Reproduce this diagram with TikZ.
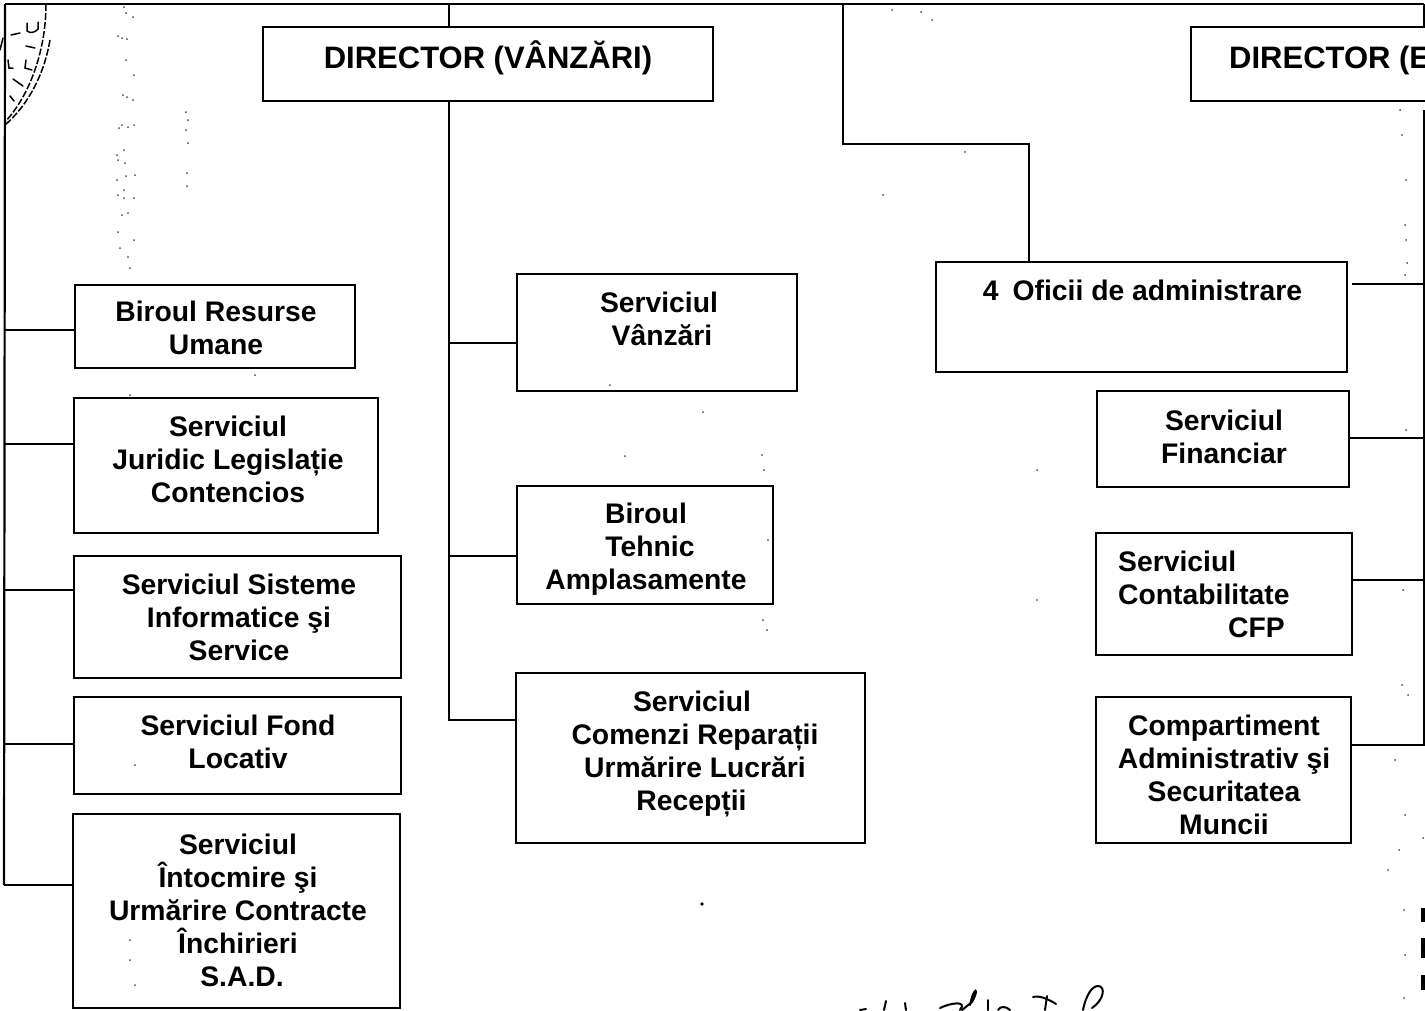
\documentclass[tikz,border=0pt]{standalone}
\usepackage{fontspec}
\setmainfont{Liberation Sans}
\tikzset{
  orgbox/.style={draw=black,line width=2.2pt,fill=none,rectangle,inner sep=0pt,outer sep=0pt,anchor=north west},
  conn/.style={draw=black,line width=2.2pt},
  lbl/.style={font=\fontsize{28.3}{33}\selectfont\bfseries,inner sep=0pt,align=center,text=black},
  lblleft/.style={lbl,align=left,anchor=west},
  head/.style={font=\fontsize{31}{33}\selectfont\bfseries,inner sep=0pt,text=black},
  speck/.style={fill=black!70,draw=none},
  scribble/.style={draw=black,line width=2pt,line cap=round},
  stamp/.style={draw=black,line width=1.5pt,dash pattern=on 7pt off 2pt},
  stampmark/.style={draw=black,line width=1.5pt,line cap=round}
}
\begin{document}
\begin{tikzpicture}[x=1pt,y=-1pt]
\clip (0,0) rectangle (1425,1010);
\fill[white] (0,0) rectangle (1425,1010);
% free ends of the trunk lines
\coordinate (tl) at (5,4);
\coordinate (tr) at (1424,4);
\coordinate (tend) at (1424,745);
\coordinate (lend) at (4,885);
% boxes
\node[orgbox,minimum width=450pt,minimum height=74pt] (dv) at (263,27) {};
\node[orgbox,minimum width=300pt,minimum height=74pt] (de) at (1191,27) {};
\node[orgbox,minimum width=280pt,minimum height=83pt] (b1) at (75,285) {};
\node[orgbox,minimum width=304pt,minimum height=135pt] (b2) at (74,398) {};
\node[orgbox,minimum width=327pt,minimum height=122pt] (b3) at (74,556) {};
\node[orgbox,minimum width=327pt,minimum height=97pt] (b4) at (74,697) {};
\node[orgbox,minimum width=327pt,minimum height=194pt] (b5) at (73,814) {};
\node[orgbox,minimum width=280pt,minimum height=117pt] (c1) at (517,274) {};
\node[orgbox,minimum width=256pt,minimum height=118pt] (c2) at (517,486) {};
\node[orgbox,minimum width=349pt,minimum height=170pt] (c3) at (516,673) {};
\node[orgbox,minimum width=411pt,minimum height=110pt] (d0) at (936,262) {};
\node[orgbox,minimum width=252pt,minimum height=96pt] (d1) at (1097,391) {};
\node[orgbox,minimum width=256pt,minimum height=122pt] (d2) at (1096,533) {};
\node[orgbox,minimum width=255pt,minimum height=146pt] (d3) at (1096,697) {};
% labels
\node[head,anchor=center] (tdv) at (488,57.5) {DIRECTOR (VÂNZĂRI)};
\node[head,anchor=west] (tde) at (1229,60) {DIRECTOR (E};
\node[lbl] (t1) at (216,328) {Biroul Resurse\\Umane};
\node[lbl] (t2) at (228,459.5) {Serviciul\\Juridic Legislație\\Contencios};
\node[lbl] (t3) at (239,617) {Serviciul Sisteme\\Informatice şi\\Service};
\node[lbl] (t4) at (238,741.5) {Serviciul Fond\\Locativ};
\node[lbl] (t5) at (238,910) {Serviciul\\Întocmire şi\\Urmărire Contracte\\Închirieri\\\hspace*{8pt}S.A.D.};
\node[lbl] (t6) at (659,319) {Serviciul\\\hspace*{6pt}Vânzări};
\node[lbl] (t7) at (646,549.5) {Biroul\\\hspace*{8pt}Tehnic\\Amplasamente};
\node[lbl] (t8) at (695,754.5) {Serviciul\hspace*{6pt}\\Comenzi Reparații\\Urmărire Lucrări\hspace*{5pt}\\Recepții\hspace*{7pt}};
\node[lbl] (t9) at (1142.5,290) {4\hspace{14pt}Oficii de administrare};
\node[lbl] (t10) at (1224,436.5) {Serviciul\\Financiar};
\node[lblleft] (t11) at (1118,594) {Serviciul\\Contabilitate\\\hspace*{110pt}CFP};
\node[lbl] (t12) at (1224,775) {Compartiment\\Administrativ şi\\Securitatea\\Muncii};
% connectors
\draw[conn] (tl) -- (tr);
\draw[conn] (tl) -- (lend);
\draw[conn] (dv.north -| 449,0) -- (449,4);
\draw[conn] (dv.south -| 449,0) -- (449,720) -- (c3.west |- 0,720);
\draw[conn] (449,343) -- (c1.west |- 0,343);
\draw[conn] (449,556) -- (c2.west |- 0,556);
\draw[conn] (843,4) -- (843,144) -- (1029,144) -- (d0.north -| 1029,0);
\draw[conn] (tr) -- (1424,27);
\draw[conn] (1424,110) -- (tend) -- (d3.east |- tend);
\draw[conn] (d0.east |- 0,284) ++(5,0) -- (1424,284);
\draw[conn] (d1.east |- 0,438) -- (1424,438);
\draw[conn] (d2.east |- 0,580) -- (1424,580);
\draw[conn] (5,330) -- (b1.west |- 0,330);
\draw[conn] (5,444) -- (b2.west |- 0,444);
\draw[conn] (5,590) -- (b3.west |- 0,590);
\draw[conn] (5,744) -- (b4.west |- 0,744);
\draw[conn] (lend) -- (b5.west |- lend);
% stamp
\draw[stamp] (46,4) .. controls (46,50) and (30,95) .. (5,122);
\draw[stamp] (50,40) .. controls (44,75) and (28,105) .. (5,125);
\draw[stampmark] (27,23) -- (27,31) .. controls (30,34) and (36,32) .. (38,29) -- (38,22);
\draw[stampmark] (11,35) -- (20,33);
\draw[stampmark] (26,46) -- (35,48);
\draw[stampmark] (8,60) -- (9,68) -- (13,68);
\draw[stampmark] (26,60) -- (25,68) -- (32,70);
\draw[stampmark] (13,79) -- (23,86);
\draw[stampmark] (10,96) -- (14,101);
\draw[stampmark] (0,50) -- (3,38);
% right-hand fragments
\fill (1421,908) rectangle (1425,922);
\fill (1421,938) rectangle (1425,958);
\fill (1421,975) rectangle (1425,990);
% signature
\draw[scribble] (860,1010) -- (866,1009);
\draw[scribble] (886,1001) -- (884,1010);
\draw[scribble] (905,1003) -- (906,1010);
\draw[scribble] (940,1008) .. controls (950,1003) and (968,1000) .. (960,1010);
\draw[scribble] (970,1005) .. controls (974,985) and (980,988) .. (972,1002) -- (962,1010);
\draw[scribble] (988,1000) -- (988,1010);
\draw[scribble] (998,1010) .. controls (1000,1006) and (1006,1006) .. (1010,1010);
\draw[scribble] (1033,997) .. controls (1040,995) and (1050,1000) .. (1056,1004);
\draw[scribble] (1047,996) -- (1045,1010);
\draw[scribble] (1083,1010) .. controls (1086,995) and (1092,986) .. (1098,986) .. controls (1106,986) and (1104,1000) .. (1092,1008);
% scan specks
\foreach \x/\y in {124/7,126/13,133/17,118/36,122/38,127/39,126/60,134/75,123/95,127/97,133/100,122/125,128/127,119/128,134/125,117/155,124/150,118/160,125/163,126/176,135/175,117/180,124/190,118/195,124/198,134/198,122/215,118/232,128/213,120/248,134/240,128/257,130/268,186/112,188/120,186/130,188/143,187/173,187/186,255/375,130/395,135/765,130/940,135/985,130/960,703/412,625/456,762/455,764/470,768/540,763/620,767/630,610/385,1037/600,1037/470,1405/225,1406/240,1407/263,1405/275,1400/110,1402/135,1406/180,1403/590,1402/685,1408/695,1406/430,1405/815,1399/850,1423/838,965/152,883/195,892/10,921/12,932/20,1395/760,1388/870,1404/910,1405/955,1404/998}
  {\fill[speck] (\x,\y) circle (1pt);}
\fill (702,904) circle (1.8pt);
\end{tikzpicture}
\end{document}
